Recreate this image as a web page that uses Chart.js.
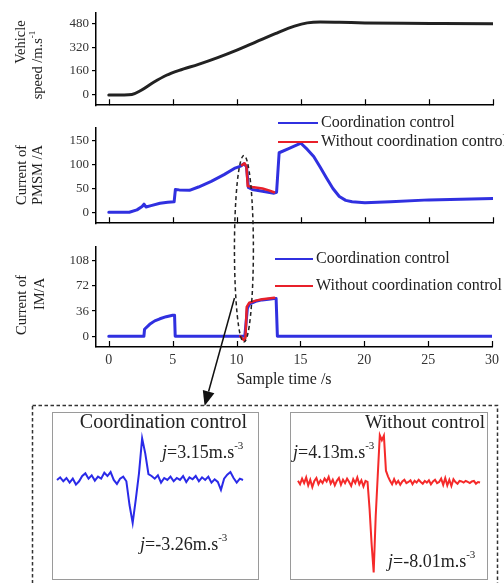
<!DOCTYPE html>
<html>
<head>
<meta charset="utf-8">
<script src="https://cdn.jsdelivr.net/npm/chart.js@4.4.1/dist/chart.umd.min.js"></script>
<style>
  html,body{margin:0;padding:0;background:#fff;}
  #wrap{position:relative;width:504px;height:583px;overflow:hidden;background:#fff;}
  .box{position:absolute;}
  #ov{position:absolute;left:0;top:0;pointer-events:none;}
</style>
</head>
<body>
<div id="wrap">
  <div class="box" style="left:0;top:0;width:504px;height:116px"><canvas id="c1"></canvas></div>
  <div class="box" style="left:0;top:114px;width:504px;height:120px"><canvas id="c2"></canvas></div>
  <div class="box" style="left:0;top:236px;width:504px;height:154px"><canvas id="c3"></canvas></div>
  <div class="box" style="left:52px;top:412px;width:207px;height:168px"><canvas id="c4"></canvas></div>
  <div class="box" style="left:290px;top:412px;width:198px;height:168px"><canvas id="c5"></canvas></div>
  <canvas id="ov" width="504" height="583"></canvas>
</div>
<script>
// ---------- data ----------
const xTickVals = [0, 5, 10, 15, 20, 25, 30];

const speedTime = [0, 1.2, 1.8, 2.5, 3.5, 4.5, 5.5, 7, 8.5, 10, 11.5, 13, 14.5, 15.5, 16.5, 18, 20, 23, 26, 30];
const speedVals = [0, 0, 3, 30, 85, 132, 165, 205, 250, 300, 355, 410, 460, 482, 488, 486, 482, 479, 478, 477];
const speedTicks = [0, 160, 320, 480];

const pmsmTime = [0,1.6,2.2,2.6,2.75,2.9,3.3,4,4.6,5.1,5.2,5.5,6.3,7,8,9,9.8,10.3,10.55,10.75,10.9,11.2,12,12.9,13.1,13.3,14,15,15.5,16,16.5,17,17.5,18,18.5,19,20,22,25,30];
const pmsmVals = [0,0,5,12,17,11,14,19,21,22,48,47,46,53,65,79,92,97,102,96,52,48,44,40,42,125,133,145,132,117,95,72,50,33,25,22,20,22,26,29];
const pmsmRedTime = [10.4, 10.6, 10.75, 10.85, 11.2, 12, 12.5, 12.9];
const pmsmRedVals = [99, 103, 96, 55, 53, 50, 46, 42];
const pmsmTicks = [0, 50, 100, 150];

const imTime = [0,2.75,2.8,3.2,3.6,4,4.5,5.0,5.15,5.2,10.65,10.85,11,11.5,12,12.5,12.95,13.1,13.2,30];
const imVals = [0,0,10,17,22,25,28,30,30,0,0,40,46,50,52,53,54,54,0,0];
const imRedTime = [10.3, 10.5, 10.6, 10.7, 10.8, 11, 11.5, 12, 12.5, 12.95];
const imRedVals = [0, -4, -6, -2, 42, 48, 51, 53, 54, 55];
const imTicks = [0, 36, 72, 108];

const seriesNames = ['Coordination control', 'Without coordination control'];

// jerk detail (inset) samples
const jerkCoord = [0.0,0.2,-0.1,0.15,-0.2,0.1,-0.35,-0.1,0.3,0.5,0.1,0.35,-0.05,0.25,0.1,0.55,0.3,0.6,0.0,-0.3,0.1,0.25,
  -0.1,-1.9,-3.26,-1.45,0.5,3.15,2.0,0.45,
  0.3,0.1,0.35,-0.2,0.15,0.0,0.25,-0.1,0.15,0.0,0.3,-0.15,0.2,0.05,0.3,-0.1,0.2,0.0,0.25,-0.2,0.05,-0.15,-0.75,0.1,0.4,0.6,0.15,-0.2,0.1,0.0];
const jerkWithout = [0.1,-0.2,0.3,-0.1,0.4,-0.3,0.2,-0.45,0.1,0.35,-0.2,0.15,-0.1,0.3,0.05,0.45,-0.15,0.2,-0.3,0.1,0.35,-0.25,0.2,-0.1,0.3,0.0,-0.35,0.25,-0.1,0.4,-0.2,0.15,-0.4,0.1,0.0,
  -2.4,-5.5,-8.01,-3.0,0.6,4.13,3.7,4.1,1.0,0.5,0.1,
  -0.2,0.25,-0.15,0.1,-0.25,0.05,0.2,-0.1,0.0,0.15,-0.2,0.1,-0.05,0.2,0.0,-0.15,0.1,-0.05,0.15,-0.2,0.05,0.2,-0.1,0.0,0.3,-0.25,0.35,-0.3,0.2,-0.35,0.25,0.0,-0.15,0.1,0.05,-0.05,0.1,0.0,-0.1,0.05,0.1,-0.15,0.0,-0.05];

// zoom annotation (data units)
const zoomCenterT = 10.55, zoomHalfT = 0.74, zoomTopPmsm = 119, zoomBottomIm = -8.4;
const arrowFrom = {t: 9.84, v: 54.7}, arrowToT = 7.5;

// ---------- helpers ----------
const FAM = '"Liberation Serif", "Times New Roman", serif';
const BLUE = '#3030e0', RED = '#e8202a';
const pairs = (t, v) => t.map((x, i) => ({x: x, y: v[i]}));

function drawRich(ctx, o) {
  ctx.save();
  ctx.translate(o.x, o.y);
  if (o.rot) ctx.rotate(-Math.PI / 2);
  ctx.fillStyle = o.color || '#222';
  ctx.textBaseline = 'middle';
  ctx.textAlign = 'left';
  const fontOf = p => (p.it ? 'italic ' : '') + (p.sup ? Math.round(o.size * 0.6) : o.size) + 'px ' + FAM;
  let w = 0;
  o.parts.forEach(p => { ctx.font = fontOf(p); p._w = ctx.measureText(p.t).width; w += p._w; });
  let cx = o.align === 'left' ? 0 : (o.align === 'right' ? -w : -w / 2);
  o.parts.forEach(p => {
    ctx.font = fontOf(p);
    ctx.fillText(p.t, cx, p.sup ? -o.size * 0.38 : 0);
    cx += p._w;
  });
  ctx.restore();
}

function makeDeco(conf) {
  return {
    id: 'deco',
    beforeDatasetsDraw(chart) {
      const ctx = chart.ctx;
      (conf.under || []).forEach(t => drawRich(ctx, t));
    },
    afterDraw(chart) {
      const ctx = chart.ctx, ca = chart.chartArea;
      ctx.save();
      if (conf.innerTicks) {
        const x = chart.scales.x;
        ctx.strokeStyle = '#000'; ctx.lineWidth = 1.2; ctx.beginPath();
        x.ticks.forEach(t => {
          const px = Math.round(x.getPixelForValue(t.value)) + 0.5;
          ctx.moveTo(px, ca.bottom); ctx.lineTo(px, ca.bottom - 6);
        });
        ctx.stroke();
      }
      (conf.legend || []).forEach(l => {
        const ds = chart.data.datasets[l.ds];
        ctx.strokeStyle = ds.borderColor; ctx.lineWidth = 2;
        ctx.beginPath(); ctx.moveTo(l.x1, l.y); ctx.lineTo(l.x2, l.y); ctx.stroke();
        drawRich(ctx, {parts: [{t: ds.label}], x: l.tx, y: l.y, size: 16, align: 'left', color: '#222'});
      });
      (conf.texts || []).forEach(t => drawRich(ctx, t));
      if (conf.box) {
        ctx.strokeStyle = '#9a9a9a'; ctx.lineWidth = 1;
        ctx.strokeRect(ca.left + 0.5, ca.top + 0.5, ca.right - ca.left - 1, ca.bottom - ca.top - 1);
      }
      ctx.restore();
    }
  };
}

function panel(id, datasets, yMin, yMax, yTicks, padTop, xHeight, showX, conf) {
  return new Chart(document.getElementById(id), {
    type: 'line',
    data: {datasets: datasets},
    options: {
      responsive: true, maintainAspectRatio: false, animation: false, devicePixelRatio: 1,
      layout: {padding: {left: 0, right: 11, top: padTop, bottom: 0}},
      plugins: {legend: {display: false}, tooltip: {enabled: false}},
      elements: {point: {radius: 0}, line: {borderCapStyle: 'round', borderJoinStyle: 'round'}},
      scales: {
        x: {
          type: 'linear', min: -1, max: 30,
          afterBuildTicks: s => { s.ticks = xTickVals.map(v => ({value: v})); },
          afterFit: s => { s.height = xHeight; },
          grid: {display: false, drawTicks: false, tickLength: 0},
          border: {display: true, color: '#000', width: 1.5},
          ticks: {display: showX, padding: 5, color: '#333', font: {family: FAM, size: 14}, maxRotation: 0}
        },
        y: {
          type: 'linear', min: yMin, max: yMax,
          afterBuildTicks: s => { s.ticks = yTicks.map(v => ({value: v})); },
          afterFit: s => { s.width = 96; },
          grid: {display: true, drawOnChartArea: false, drawTicks: true, tickLength: 4, color: '#000', lineWidth: 1.2},
          border: {display: true, color: '#000', width: 1.5},
          ticks: {padding: 3, color: '#333', font: {family: FAM, size: 13}}
        }
      }
    },
    plugins: [makeDeco(conf)]
  });
}

const sup = (t) => ({t: t, sup: true});

// ---------- panel 1: vehicle speed ----------
const c1 = panel('c1', [{
  data: pairs(speedTime, speedVals), borderColor: '#222', borderWidth: 3,
  tension: 0.4, cubicInterpolationMode: 'monotone'
}], -68, 548, speedTicks, 13, 3, false, {
  innerTicks: true,
  texts: [
    {parts: [{t: 'Vehicle'}], x: 21, y: 42, size: 14.5, rot: true},
    {parts: [{t: 'speed /m.s'}, sup('-1')], x: 38, y: 65, size: 14.5, rot: true}
  ]
});

// ---------- panel 2: PMSM current ----------
const c2 = panel('c2', [
  {label: seriesNames[0], data: pairs(pmsmTime, pmsmVals), borderColor: BLUE, borderWidth: 3, tension: 0, order: 2},
  {label: seriesNames[1], data: pairs(pmsmRedTime, pmsmRedVals), borderColor: RED, borderWidth: 2.5, tension: 0, order: 1}
], -23, 177, pmsmTicks, 14, 3, false, {
  innerTicks: true,
  legend: [
    {ds: 0, x1: 278, x2: 318, tx: 321, y: 9},
    {ds: 1, x1: 278, x2: 318, tx: 321, y: 28}
  ],
  texts: [
    {parts: [{t: 'Current of'}], x: 22, y: 61, size: 14.5, rot: true},
    {parts: [{t: 'PMSM /A'}], x: 38, y: 61, size: 14.5, rot: true}
  ]
});

// ---------- panel 3: IM current ----------
const c3 = panel('c3', [
  {label: seriesNames[0], data: pairs(imTime, imVals), borderColor: BLUE, borderWidth: 3, tension: 0, order: 2},
  {label: seriesNames[1], data: pairs(imRedTime, imRedVals), borderColor: RED, borderWidth: 2.5, tension: 0, order: 1}
], -15.4, 128, imTicks, 9, 43, true, {
  innerTicks: true,
  legend: [
    {ds: 0, x1: 275, x2: 313, tx: 316, y: 23},
    {ds: 1, x1: 275, x2: 313, tx: 316, y: 50}
  ],
  texts: [
    {parts: [{t: 'Current of'}], x: 22, y: 69, size: 14.5, rot: true},
    {parts: [{t: 'IM/A'}], x: 40, y: 58, size: 14.5, rot: true},
    {parts: [{t: 'Sample time /s'}], x: 284, y: 144, size: 16}
  ]
});

// ---------- insets ----------
function inset(id, vals, color, xMin, xMax, yMin, yMax, conf) {
  return new Chart(document.getElementById(id), {
    type: 'line',
    data: {datasets: [{data: vals.map((v, i) => ({x: i, y: v})), borderColor: color, borderWidth: 2, tension: 0}]},
    options: {
      responsive: true, maintainAspectRatio: false, animation: false, devicePixelRatio: 1,
      layout: {padding: 0},
      plugins: {legend: {display: false}, tooltip: {enabled: false}},
      elements: {point: {radius: 0}},
      scales: {
        x: {type: 'linear', min: xMin, max: xMax, display: false},
        y: {type: 'linear', min: yMin, max: yMax, display: false}
      }
    },
    plugins: [makeDeco(conf)]
  });
}

const c4 = inset('c4', jerkCoord, '#2a2ae8', -1.59, 64.07, -7.58, 5.15, {
  box: true,
  under: [
    {parts: [{t: 'Coordination control'}], x: 195, y: 11, size: 20, align: 'right'},
    {parts: [{t: 'j', it: true}, {t: '=3.15m.s'}, sup('-3')], x: 110, y: 41, size: 18, align: 'left'},
    {parts: [{t: 'j', it: true}, {t: '=-3.26m.s'}, sup('-3')], x: 88, y: 133, size: 18, align: 'left'}
  ]
});

const c5 = inset('c5', jerkWithout, '#f52a2a', -3.91, 92.9, -8.67, 6.19, {
  box: true,
  under: [
    {parts: [{t: 'Without control'}], x: 195, y: 11, size: 19, align: 'right'},
    {parts: [{t: 'j', it: true}, {t: '=4.13m.s'}, sup('-3')], x: 3, y: 41, size: 18, align: 'left'},
    {parts: [{t: 'j', it: true}, {t: '=-8.01m.s'}, sup('-3')], x: 98, y: 150, size: 18, align: 'left'}
  ]
});

// ---------- overlay: zoom ellipse, arrow, dashed frame ----------
(function drawOverlay() {
  const ctx = document.getElementById('ov').getContext('2d');
  const top2 = c2.canvas.parentNode.offsetTop, top3 = c3.canvas.parentNode.offsetTop;
  const cx = c2.scales.x.getPixelForValue(zoomCenterT);
  const rx = c2.scales.x.getPixelForValue(zoomCenterT + zoomHalfT) - cx;
  const yTop = top2 + c2.scales.y.getPixelForValue(zoomTopPmsm);
  const yBot = top3 + c3.scales.y.getPixelForValue(zoomBottomIm);
  ctx.save();
  ctx.strokeStyle = '#222'; ctx.lineWidth = 1.5; ctx.setLineDash([4, 3]);
  ctx.beginPath();
  ctx.ellipse(cx, (yTop + yBot) / 2, rx, (yBot - yTop) / 2, 0, 0, Math.PI * 2);
  ctx.stroke();

  // outer dashed frame
  const frameTop = c4.canvas.parentNode.offsetTop - 7;
  ctx.strokeStyle = '#333'; ctx.lineWidth = 1.5; ctx.setLineDash([3.5, 2.5]);
  ctx.strokeRect(32.5, frameTop + 0.5, 465, 200);

  // arrow
  const ax0 = c3.scales.x.getPixelForValue(arrowFrom.t), ay0 = top3 + c3.scales.y.getPixelForValue(arrowFrom.v);
  const ax1 = c3.scales.x.getPixelForValue(arrowToT), ay1 = frameTop + 1;
  const ang = Math.atan2(ay1 - ay0, ax1 - ax0);
  const hl = 15, hw = 6;
  const bx = ax1 - hl * Math.cos(ang), by = ay1 - hl * Math.sin(ang);
  ctx.setLineDash([]);
  ctx.strokeStyle = '#111'; ctx.lineWidth = 1.5;
  ctx.beginPath(); ctx.moveTo(ax0, ay0); ctx.lineTo(bx, by); ctx.stroke();
  ctx.fillStyle = '#111';
  ctx.beginPath();
  ctx.moveTo(ax1, ay1);
  ctx.lineTo(bx + hw * Math.sin(ang), by - hw * Math.cos(ang));
  ctx.lineTo(bx - hw * Math.sin(ang), by + hw * Math.cos(ang));
  ctx.closePath(); ctx.fill();
  ctx.restore();
})();
</script>
</body>
</html>
